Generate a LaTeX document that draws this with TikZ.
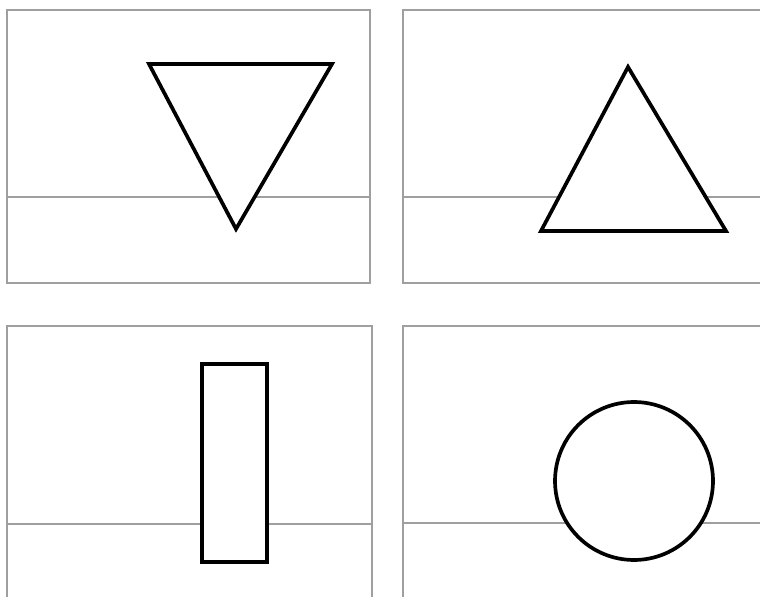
\documentclass[tikz,border=0pt]{standalone}
\usepackage{xcolor}
\usepackage{tikz}

\begin{document}
\begin{tikzpicture}[x=0.02cm, y=-0.02cm,
      panel/.style={draw=gray!75, line width=1pt},
      figline/.style={draw=black, fill=white, line width=2.1pt, line join=miter}]
    \useasboundingbox (0,0) rectangle (760,597);
    \clip (0,0) rectangle (760,597);
    \foreach \px/\py/\pw/\ph/\ly in {7/10/363/273/197,403/10/380/273/197,7/326/365/290/524,403/326/380/290/523}
    {
      \draw[panel] (\px,\py) rectangle ++(\pw,\ph);
      \draw[panel] (\px,\ly) -- ++(\pw,0);
    }
    \draw[figline] (149,64) -- (332,64) -- (236,229) -- cycle;
    \draw[figline] (628,67) -- (726,231) -- (541,231) -- cycle;
    \draw[figline] (202,364) rectangle (267,562);
    \draw[figline] (634,481) circle [radius=1.58cm];
  \end{tikzpicture}
\end{document}
